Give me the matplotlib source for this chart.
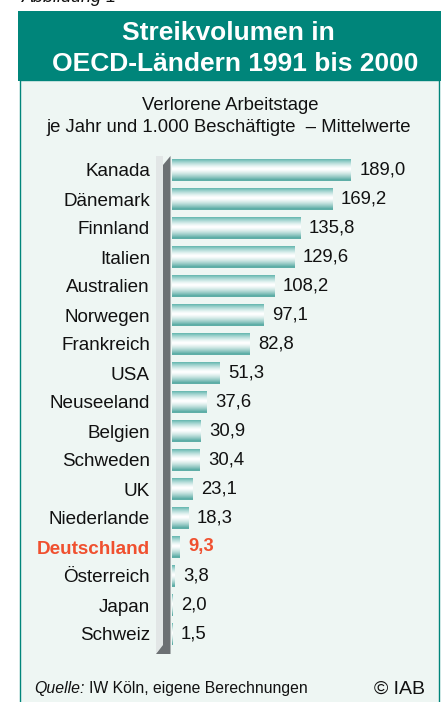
import matplotlib
matplotlib.use("Agg")
import matplotlib.pyplot as plt
from matplotlib.patches import Rectangle, Polygon
import numpy as np

plt.rcParams['font.family'] = ['Liberation Sans', 'DejaVu Sans']

countries = ["Kanada", "Dänemark", "Finnland", "Italien", "Australien", "Norwegen",
             "Frankreich", "USA", "Neuseeland", "Belgien", "Schweden", "UK",
             "Niederlande", "Deutschland", "Österreich", "Japan", "Schweiz"]
values = [189.0, 169.2, 135.8, 129.6, 108.2, 97.1, 82.8, 51.3, 37.6, 30.9, 30.4,
          23.1, 18.3, 9.3, 3.8, 2.0, 1.5]
highlight = "Deutschland"

title_lines = ["Streikvolumen in", "OECD-Ländern 1991 bis 2000"]
subtitle_lines = ["Verlorene Arbeitstage", "je Jahr und 1.000 Beschäftigte  \u2013 Mittelwerte"]

W, H = 441, 702
fig = plt.figure(figsize=(W / 100, H / 100), dpi=100)
fig.patch.set_facecolor("white")

TEAL = "#00857A"
PANEL = "#EEF6F3"
RED = "#F0502F"

bg = fig.add_axes([0, 0, 1, 1])
bg.set_xlim(0, W)
bg.set_ylim(H, 0)
bg.axis("off")

# "Abbildung 1" cut at top (as in the reference)
bg.text(22, 2, "Abbildung 1", fontsize=13, style="italic", ha="left", va="baseline", color="#111111")

# panel
bg.add_patch(Rectangle((19.5, 80), 419, 640, facecolor=PANEL, edgecolor=TEAL, lw=1.0, zorder=1))
# header
bg.add_patch(Rectangle((18, 11), 430, 70, facecolor=TEAL, edgecolor="none", zorder=2))
bg.text(228, 33, title_lines[0], fontsize=19, fontweight="bold", color="white",
        ha="center", va="center", zorder=3)
bg.text(235, 64, title_lines[1], fontsize=19, fontweight="bold", color="white",
        ha="center", va="center", zorder=3)

bg.text(230, 105, subtitle_lines[0], fontsize=13.3, ha="center", va="center", color="#111111", zorder=3)
bg.text(229, 128, subtitle_lines[1], fontsize=13.3, ha="center", va="center", color="#111111", zorder=3)

# 3D axis wall
bg.add_patch(Polygon([(156, 156), (163, 156), (163, 645), (156, 653)], closed=True,
                     facecolor="#E2E6E6", edgecolor="none", zorder=3))
bg.add_patch(Polygon([(163, 165), (170.5, 156), (170.5, 654), (156, 654), (163, 645)], closed=True,
                     facecolor="#6C7073", edgecolor="none", zorder=3))

# source
bg.text(34, 693, "Quelle:", fontsize=11.4, style="italic", ha="left", va="baseline", color="#111111", zorder=3)
bg.text(89, 693, "IW Köln, eigene Berechnungen", fontsize=11.3, ha="left", va="baseline", color="#111111", zorder=3)
bg.text(425, 694, "\u00a9 IAB", fontsize=14, ha="right", va="baseline", color="#111111", zorder=3)

# bar axes
n = len(countries)
row_h = 29
top_px = 170 - row_h / 2
bot_px = top_px + n * row_h
x0_px = 171.5
scale = 0.952
ax = fig.add_axes([x0_px / W, 1 - bot_px / H, (W - x0_px) / W, (bot_px - top_px) / H])
ax.set_xlim(0, (W - x0_px) / scale)
ax.set_ylim(n - 0.5, -0.5)
ax.patch.set_alpha(0)
for s in ax.spines.values():
    s.set_visible(False)
ax.set_xticks([])

ypos = np.arange(n)
bar_h = 21 / row_h
# vertical gradient: teal at edges, white in middle
nstrips = 21
top_c = np.array([0.38, 0.71, 0.68])
bot_c = np.array([0.33, 0.66, 0.63])
white = np.array([1.0, 1.0, 1.0])
for k in range(nstrips):
    t = (k + 0.5) / nstrips  # 0 top .. 1 bottom
    mid = 0.47
    if t < mid:
        f = (mid - t) / mid
        c = white + (top_c - white) * f ** 1.4
    else:
        f = (t - mid) / (1 - mid)
        c = white + (bot_c - white) * f ** 1.4
    off = -bar_h / 2 + (k + 0.5) * bar_h / nstrips
    ax.barh(ypos + off, values, height=bar_h / nstrips * 1.02, color=tuple(c), lw=0, zorder=2)

ax.set_yticks(ypos, countries, fontsize=13.6)
ax.tick_params(axis="y", length=0, pad=15.5)
for lab in ax.get_yticklabels():
    if lab.get_text() == highlight:
        lab.set_color(RED)
        lab.set_fontweight("bold")
    else:
        lab.set_color("#111111")

for i, v in enumerate(values):
    s = f"{v:.1f}".replace(".", ",")
    hl = countries[i] == highlight
    ax.annotate(s, (v, i), xytext=(5.8, 0), textcoords="offset points",
                ha="left", va="center", fontsize=13.3,
                color=RED if hl else "#111111", fontweight="bold" if hl else "normal")

fig.savefig("out.png", dpi=100, facecolor=fig.get_facecolor())
